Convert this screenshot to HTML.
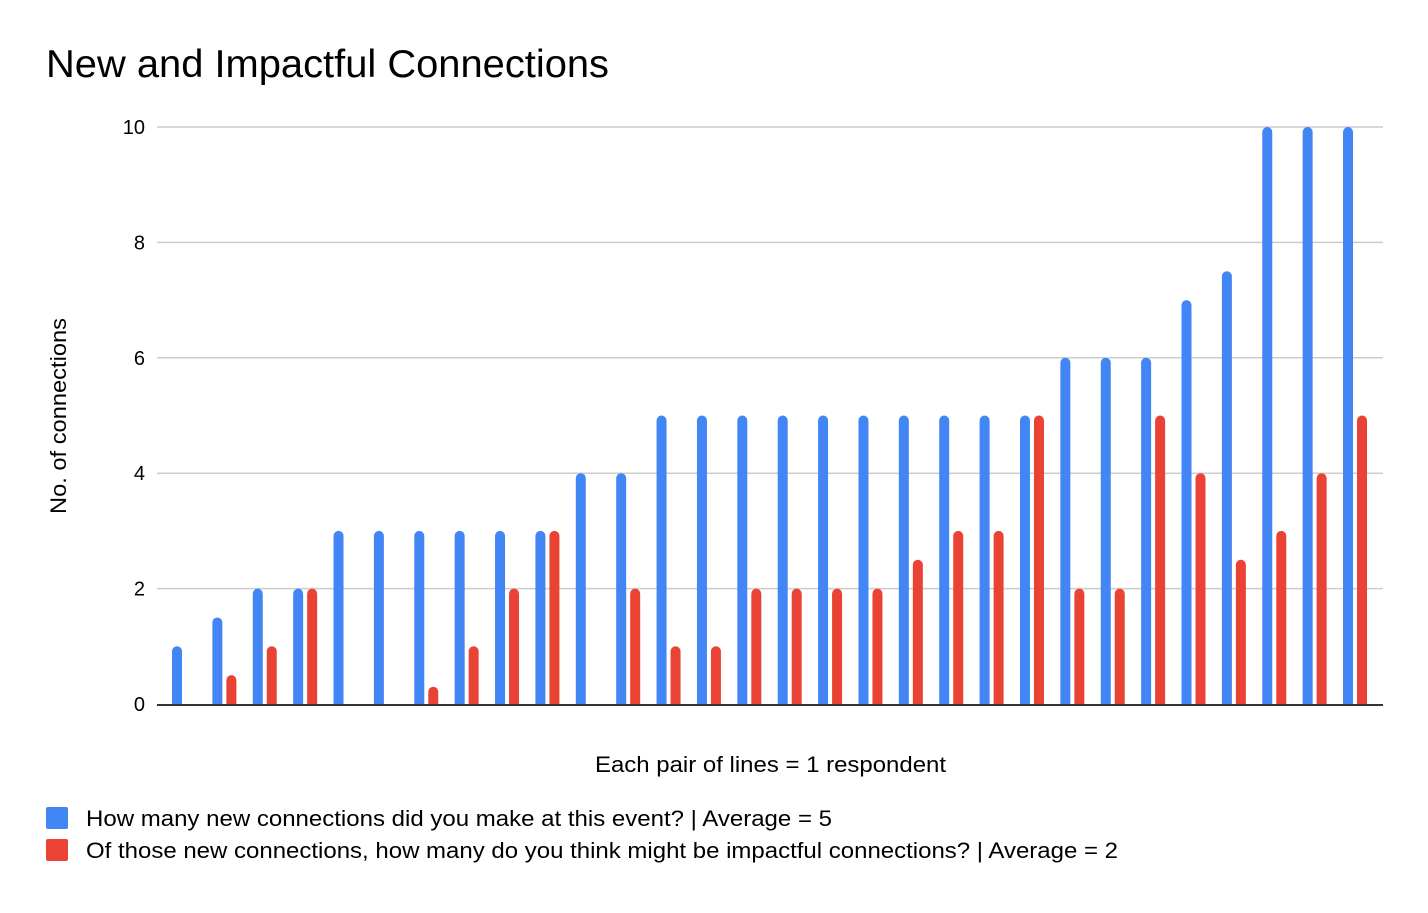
<!DOCTYPE html>
<html><head><meta charset="utf-8"><style>
body{margin:0;background:#fff;font-family:"Liberation Sans",sans-serif;}
</style></head><body>
<svg width="1428" height="908" xmlns="http://www.w3.org/2000/svg">
<text x="46" y="77" font-size="39" textLength="563" lengthAdjust="spacingAndGlyphs" fill="#000" font-family="Liberation Sans">New and Impactful Connections</text>
<g id="grid"></g>
<g id="bars"></g>
<line x1="157" y1="705" x2="1383" y2="705" stroke="#333" stroke-width="2"/>
<text transform="translate(66,416) rotate(-90)" text-anchor="middle" font-size="22" textLength="196" lengthAdjust="spacingAndGlyphs" font-family="Liberation Sans">No. of connections</text>
<text x="595" y="772" font-size="22" textLength="351" lengthAdjust="spacingAndGlyphs" font-family="Liberation Sans">Each pair of lines = 1 respondent</text>
<rect x="46" y="807" width="22" height="22" rx="2" fill="#4285f4"/>
<text x="86" y="826" font-size="22" textLength="746" lengthAdjust="spacingAndGlyphs" font-family="Liberation Sans">How many new connections did you make at this event? | Average = 5</text>
<rect x="46" y="839" width="22" height="22" rx="2" fill="#ea4335"/>
<text x="86" y="858" font-size="22" textLength="1032" lengthAdjust="spacingAndGlyphs" font-family="Liberation Sans">Of those new connections, how many do you think might be impactful connections? | Average = 2</text>
</svg>
<script>
const blueValues=[1,1.5,2,2,3,3,3,3,3,3,4,4,5,5,5,5,5,5,5,5,5,5,6,6,6,7,7.5,10,10,10];
const redValues=[0,0.5,1,2,0,0,0.3,1,2,3,0,2,1,1,2,2,2,2,2.5,3,3,5,2,2,5,4,2.5,3,4,5];
const yTicks=[0,2,4,6,8,10];
const NS="http://www.w3.org/2000/svg";
const y0=704,y10=127;
function yScale(v){return y0-(y0-y10)*v/10;}
const gw=40.38,firstCenter=184;
function xCenter(i){return firstCenter+gw*i;}
const grid=document.getElementById('grid');
yTicks.forEach(t=>{
  const y=yScale(t);
  if(t>0){const l=document.createElementNS(NS,'line');
  l.setAttribute('x1',157);l.setAttribute('x2',1383);l.setAttribute('y1',y);l.setAttribute('y2',y);
  l.setAttribute('stroke','#ccc');l.setAttribute('stroke-width','1.5');
  
  
  grid.appendChild(l);}
  const tx=document.createElementNS(NS,'text');
  tx.setAttribute('x',145);tx.setAttribute('y',y+7);tx.setAttribute('text-anchor','end');
  tx.setAttribute('font-size','20');tx.setAttribute('font-family','Liberation Sans');
  tx.textContent=t;
  
  
  grid.appendChild(tx);
});
const bars=document.getElementById('bars');
function bar(cx,v,color,name){
  if(v<=0)return;
  const top=yScale(v),h=y0-top;
  const p=document.createElementNS(NS,'path');
  const w=10,r=Math.min(5,h),x=cx-w/2;
  p.setAttribute('d',`M${x},${y0}L${x},${top+r}A${r},${r} 0 0 1 ${x+w},${top+r}L${x+w},${y0}Z`);
  p.setAttribute('fill',color);
  
  
  bars.appendChild(p);
}
blueValues.forEach((v,i)=>bar(xCenter(i)-7,v,'#4285f4','bar-new-'+(i+1)));
redValues.forEach((v,i)=>bar(xCenter(i)+7,v,'#ea4335','bar-impactful-'+(i+1)));
</script>
</body></html>
